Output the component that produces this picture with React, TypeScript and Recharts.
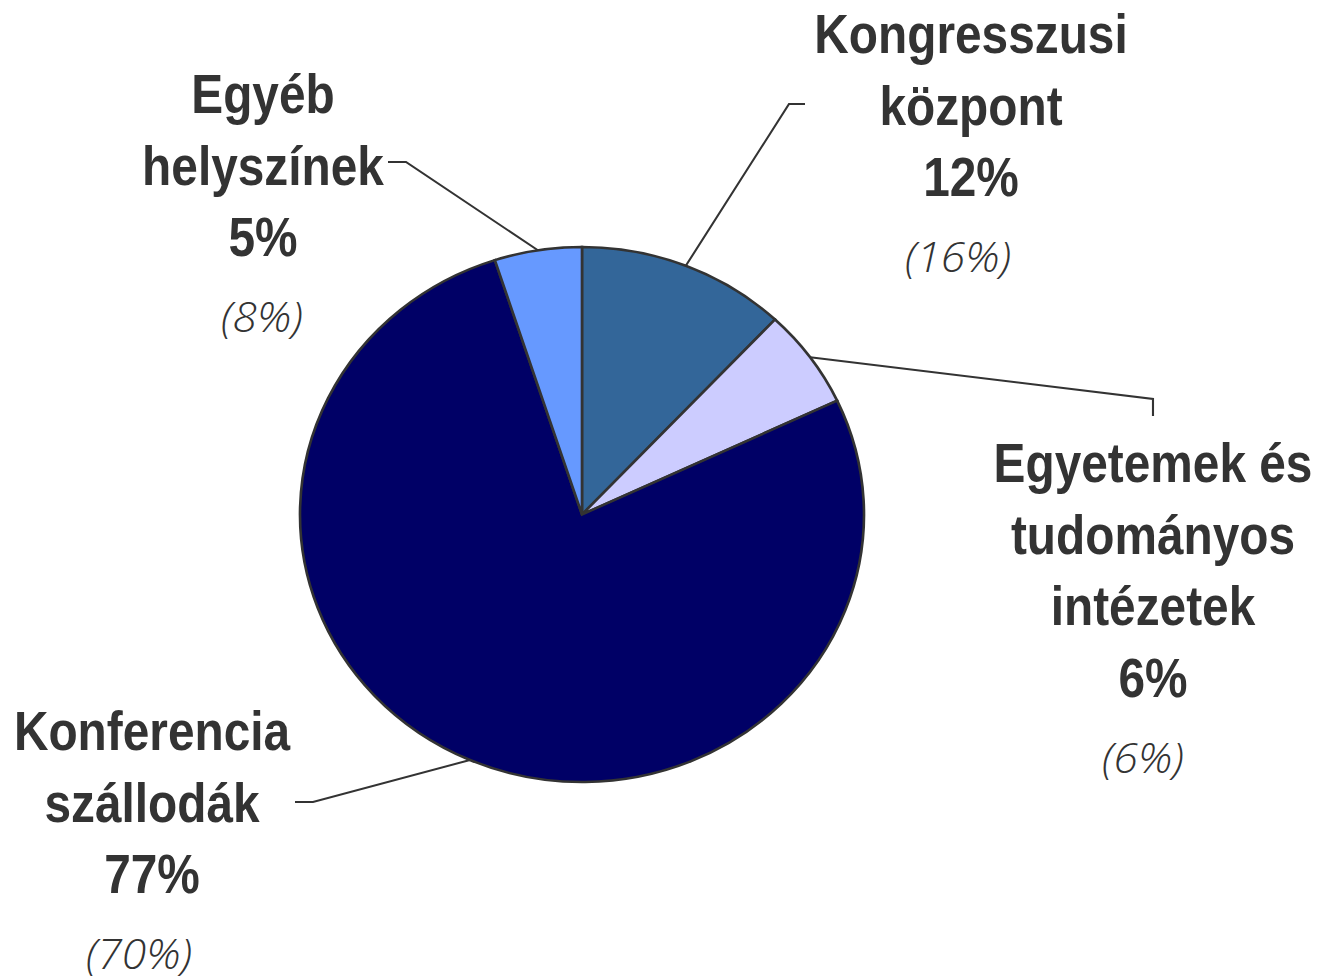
import React from 'react';
import { PieChart, Pie, Cell } from 'recharts';

// venue shares, clockwise from 12 o'clock
const categories = [
  'Kongresszusi központ',
  'Egyetemek és tudományos intézetek',
  'Konferencia szállodák',
  'Egyéb helyszínek',
];
const labelLines = [
  ['Kongresszusi', 'központ'],
  ['Egyetemek és', 'tudományos', 'intézetek'],
  ['Konferencia', 'szállodák'],
  ['Egyéb', 'helyszínek'],
];
const shares = [12, 6, 77, 5];
const previousShares = [16, 6, 70, 8];
const colors = ['#336699', '#CCCCFF', '#000066', '#6699FF'];

const data = categories.map((name, i) => ({
  name,
  value: shares[i],
  prev: previousShares[i],
}));

// the whole picture is stretched a bit horizontally
const SX = 1.0542;
const W = 1323 / SX;
const H = 976;
// no narrow font installed, so squeeze Liberation Sans Bold
const NARROW = 0.81;

// label layout in page pixels: text centre, first baseline, italic centre, leader bend + end
const layout = [
  { x: 971, y: 53, ix: 958, bend: [789, 104], end: [805, 104] },
  { x: 1153, y: 482, ix: 1143, bend: [1153, 399], end: [1153, 416] },
  { x: 152, y: 750, ix: 139, bend: [313, 802], end: [295, 802] },
  { x: 263, y: 113, ix: 262, bend: [406, 162], end: [388, 162] },
];

const LINE = 71.7;
const RADIAN = Math.PI / 180;

const BoldText = ({ x, y, children }: { x: number; y: number; children: React.ReactNode }) => (
  <text
    transform={`translate(${x},${y}) scale(${NARROW},1)`}
    x={0}
    y={0}
    textAnchor="middle"
    fill="#333333"
    fontFamily="'Liberation Sans', Arial, sans-serif"
    fontWeight="bold"
    fontSize={56}
  >
    {children}
  </text>
);

const renderLabel = (props: any) => {
  const { cx, cy, midAngle, outerRadius, index } = props;
  const l = layout[index];
  const sx = cx + outerRadius * Math.cos(-midAngle * RADIAN);
  const sy = cy + outerRadius * Math.sin(-midAngle * RADIAN);
  const lines = labelLines[index];
  const pctY = l.y + lines.length * LINE;
  return (
    <g key={`lbl-${index}`}>
      <polyline
        points={`${sx},${sy} ${l.bend[0] / SX},${l.bend[1]} ${l.end[0] / SX},${l.end[1]}`}
        fill="none"
        stroke="#333333"
        strokeWidth={2}
      />
      {lines.map((t, k) => (
        <BoldText key={k} x={l.x / SX} y={l.y + k * LINE}>
          {t}
        </BoldText>
      ))}
      <BoldText x={l.x / SX} y={pctY}>
        {`${shares[index]}%`}
      </BoldText>
      <text
        x={l.ix / SX}
        y={pctY + 76}
        textAnchor="middle"
        fill="#333333"
        fontFamily="'Open Sans', sans-serif"
        fontStyle="italic"
        fontWeight={300}
        fontSize={42}
      >
        {`(${previousShares[index]}%)`}
      </text>
    </g>
  );
};

export default function App() {
  return (
    <div
      style={{
        position: 'absolute',
        left: 0,
        top: 0,
        width: W,
        height: H,
        background: '#ffffff',
        transform: `scaleX(${SX})`,
        transformOrigin: '0 0',
      }}
    >
      <PieChart width={W} height={H} margin={{ top: 0, right: 0, bottom: 0, left: 0 }}>
        <Pie
          data={data}
          dataKey="value"
          nameKey="name"
          cx={582 / SX}
          cy={514.5}
          outerRadius={267.5}
          startAngle={90}
          endAngle={-270}
          stroke="#333333"
          strokeWidth={2.5}
          label={renderLabel}
          labelLine={false}
          isAnimationActive={false}
        >
          {data.map((d, i) => (
            <Cell key={d.name} fill={colors[i]} />
          ))}
        </Pie>
      </PieChart>
    </div>
  );
}
